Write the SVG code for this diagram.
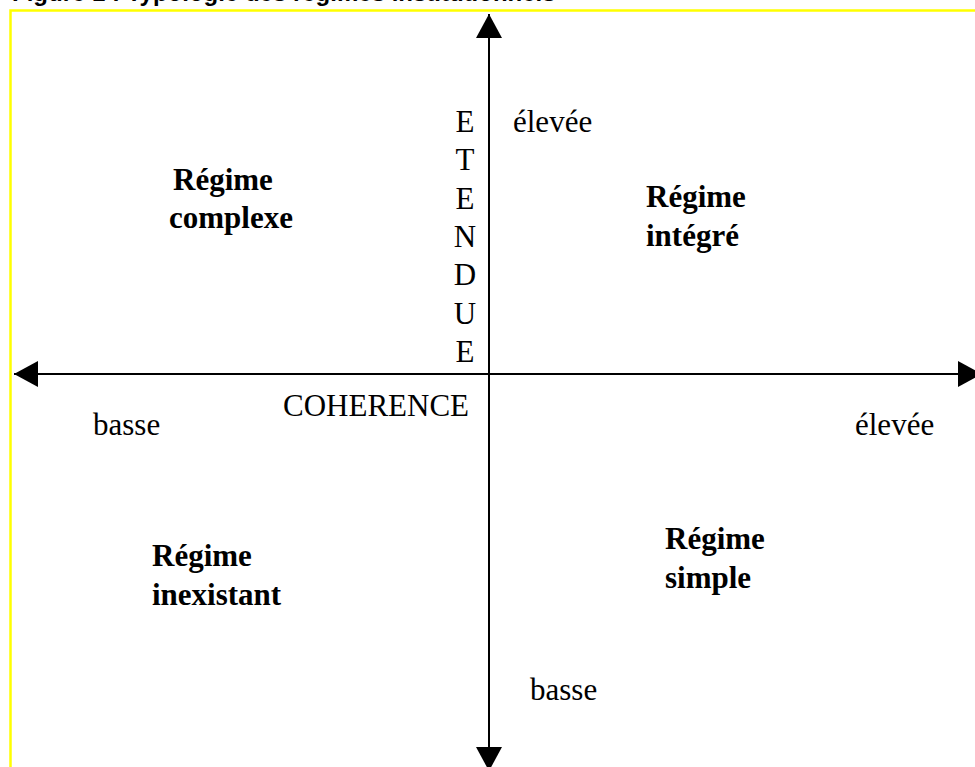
<svg xmlns="http://www.w3.org/2000/svg" width="975" height="767" viewBox="0 0 975 767">
  <style>
    .lbl { font-family: "Liberation Serif", "Times New Roman", serif; font-size: 31px; fill: #000; }
    .reg { font-family: "Liberation Serif", "Times New Roman", serif; font-size: 31px; font-weight: bold; fill: #000; }
    .title { font-family: "Liberation Sans", Arial, sans-serif; font-size: 24px; font-weight: bold; fill: #000; }
    .axis { stroke: #000; stroke-width: 2; fill: none; }
  </style>
  <defs>
    <marker id="head" markerUnits="userSpaceOnUse" markerWidth="26" markerHeight="26" refX="24" refY="13" orient="auto-start-reverse" viewBox="0 0 26 26">
      <path d="M0,0 L24,13 L0,26 Z" fill="#000"/>
    </marker>
  </defs>

  <rect width="975" height="767" fill="#fff"/>

  <!-- caption, clipped by the page top -->
  <text class="title" x="12" y="1">Figure 1 : Typologie des régimes institutionnels</text>

  <!-- yellow frame -->
  <rect x="10.5" y="10.5" width="1000" height="800" fill="none" stroke="#FFFF00" stroke-width="2.5"/>

  <!-- axes -->
  <g id="connectors">
    <line class="axis" x1="489" y1="14" x2="489" y2="771" marker-start="url(#head)" marker-end="url(#head)"/>
    <line class="axis" x1="14" y1="374" x2="982" y2="374" marker-start="url(#head)" marker-end="url(#head)"/>
  </g>

  <!-- vertical axis title -->
  <g id="etendue" class="lbl" text-anchor="middle">
    <text x="465" y="132">E</text>
    <text x="465" y="170">T</text>
    <text x="465" y="209">E</text>
    <text x="465" y="247">N</text>
    <text x="465" y="285">D</text>
    <text x="465" y="324">U</text>
    <text x="465" y="362">E</text>
  </g>

  <g id="coherence"><text class="lbl" x="283" y="416">COHERENCE</text></g>

  <!-- axis ends -->
  <g id="haut"><text class="lbl" x="513" y="132">élevée</text></g>
  <g id="bas"><text class="lbl" x="530" y="700">basse</text></g>
  <g id="gauche"><text class="lbl" x="93" y="435">basse</text></g>
  <g id="droite"><text class="lbl" x="855" y="435">élevée</text></g>

  <!-- quadrants -->
  <g id="complexe" class="reg">
    <text x="173" y="190">Régime</text>
    <text x="169" y="228">complexe</text>
  </g>
  <g id="integre" class="reg">
    <text x="646" y="207">Régime</text>
    <text x="646" y="246">intégré</text>
  </g>
  <g id="inexistant" class="reg">
    <text x="152" y="566">Régime</text>
    <text x="152" y="605">inexistant</text>
  </g>
  <g id="simple" class="reg">
    <text x="665" y="549">Régime</text>
    <text x="665" y="588">simple</text>
  </g>
</svg>
